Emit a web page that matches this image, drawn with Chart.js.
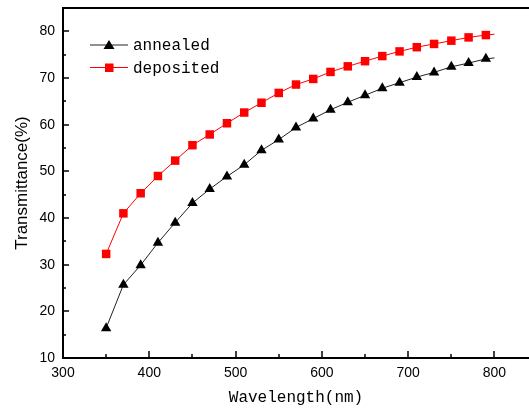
<!DOCTYPE html>
<html>
<head>
<meta charset="utf-8">
<script src="https://cdn.jsdelivr.net/npm/chart.js@4/dist/chart.umd.min.js"></script>
<style>
html,body{margin:0;padding:0;background:#fff;overflow:hidden;}
canvas{display:block;}
</style>
</head>
<body>
<canvas id="c" width="529" height="408"></canvas>
<script>
// ---- data ----
const wavelength = [350,370,390,410,430,450,470,490,510,530,550,570,590,610,630,650,670,690,710,730,750,770,790,800];
const annealed   = [16.4,25.7,29.9,34.7,39.0,43.2,46.2,48.9,51.4,54.5,56.8,59.4,61.3,63.2,64.8,66.3,67.8,69.0,70.2,71.2,72.4,73.2,74.1,74.3];
const deposited  = [32.3,41.0,45.3,49.0,52.3,55.6,57.9,60.3,62.6,64.7,66.8,68.6,69.8,71.3,72.5,73.6,74.7,75.7,76.6,77.3,78.0,78.7,79.2,79.4];
const seriesNames = ['annealed','deposited'];
const xTicks = [300,400,500,600,700,800];
const yTicks = [10,20,30,40,50,60,70,80];
const xTitle = 'Wavelength(nm)';
const yTitle = 'Transmittance(%)';

const toXY = arr => wavelength.map((w,i)=>({x:w,y:arr[i]}));
const radii = r => wavelength.map((w,i)=> i===wavelength.length-1 ? 0 : r);

const frame = {
  id:'frame',
  afterDraw(chart){
    const ctx = chart.ctx, a = chart.chartArea;
    const xs = chart.scales.x, ys = chart.scales.y;
    ctx.save();
    ctx.strokeStyle = '#000';
    // top frame
    ctx.lineWidth = 2;
    ctx.beginPath(); ctx.moveTo(a.left-1, a.top); ctx.lineTo(a.right, a.top); ctx.stroke();
    // inward ticks
    ctx.lineWidth = 1.5;
    for(let v=300; v<=840; v+=50){
      const major = v%100===0;
      const px = Math.round(xs.getPixelForValue(v));
      ctx.beginPath(); ctx.moveTo(px, a.bottom); ctx.lineTo(px, a.bottom-(major?7:4)); ctx.stroke();
    }
    for(let v=10; v<=85; v+=5){
      const major = v%10===0;
      const py = Math.round(ys.getPixelForValue(v));
      ctx.beginPath(); ctx.moveTo(a.left, py); ctx.lineTo(a.left+(major?6:3), py); ctx.stroke();
    }
    // legend
    const rows = [[0,45],[1,67.5]];
    ctx.font = '16px "Liberation Mono"';
    ctx.textBaseline = 'middle';
    rows.forEach(([di,y])=>{
      const ds = chart.data.datasets[di];
      ctx.strokeStyle = ds.borderColor; ctx.lineWidth = 1;
      ctx.beginPath(); ctx.moveTo(90,y); ctx.lineTo(128,y); ctx.stroke();
      ctx.fillStyle = ds.pointBackgroundColor;
      if(ds.pointStyle==='triangle'){
        ctx.beginPath(); ctx.moveTo(109,y-5); ctx.lineTo(114.5,y+4); ctx.lineTo(103.5,y+4); ctx.closePath(); ctx.fill();
      } else {
        ctx.fillRect(105,y-4,8.5,8.5);
      }
      ctx.fillStyle = '#000';
      ctx.fillText(seriesNames[di], 133, y+1);
    });
    ctx.restore();
  }
};

new Chart(document.getElementById('c'), {
  type:'line',
  data:{
    datasets:[
      {label:seriesNames[0], data:toXY(annealed), borderColor:'#222', borderWidth:1,
       pointStyle:'triangle', pointRadius:radii(6), pointBackgroundColor:'#000', pointBorderColor:'#000', pointBorderWidth:0, tension:0},
      {label:seriesNames[1], data:toXY(deposited), borderColor:'#ff0000', borderWidth:1,
       pointStyle:'rect', pointRadius:radii(6), pointBackgroundColor:'#ff0000', pointBorderColor:'#ff0000', pointBorderWidth:0, tension:0}
    ]
  },
  options:{
    responsive:false, animation:false, devicePixelRatio:1,
    layout:{autoPadding:false, padding:{top:8,right:0,left:0,bottom:0}},
    plugins:{legend:{display:false}, tooltip:{enabled:false}},
    scales:{
      x:{type:'linear', min:300, max:840,
         afterBuildTicks:s=>{s.ticks = xTicks.map(v=>({value:v}));},
         afterFit:s=>{s.height = 50; s.paddingLeft = 0; s.paddingRight = 0;},
         grid:{display:true, drawOnChartArea:false, drawTicks:false},
         border:{display:true, color:'#000', width:2},
         ticks:{color:'#000', padding:7, font:{family:'"Liberation Sans"', size:14}, maxRotation:0},
         title:{display:true, text:xTitle, color:'#000', font:{family:'"Liberation Mono"', size:16}, padding:{top:0,bottom:1}}
      },
      y:{type:'linear', min:10, max:85,
         afterBuildTicks:s=>{s.ticks = yTicks.map(v=>({value:v}));},
         afterFit:s=>{s.width = 63; s.paddingTop = 0; s.paddingBottom = 0;},
         grid:{display:true, drawOnChartArea:false, drawTicks:false},
         border:{display:true, color:'#000', width:2},
         ticks:{color:'#000', padding:8, font:{family:'"Liberation Sans"', size:14}},
         title:{display:true, text:yTitle, color:'#000', font:{family:'"Liberation Sans"', size:17}, padding:{top:12,bottom:0}}
      }
    }
  },
  plugins:[frame]
});
</script>
</body>
</html>
